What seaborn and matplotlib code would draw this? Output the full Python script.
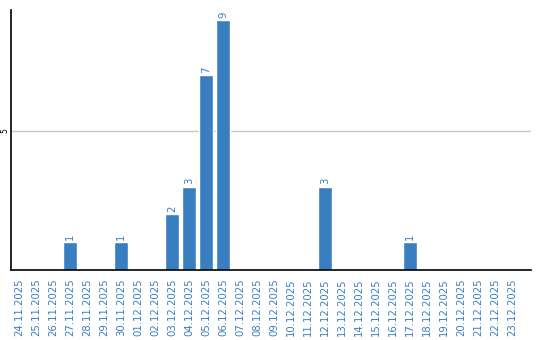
import matplotlib
matplotlib.use("Agg")
import matplotlib.pyplot as plt
import seaborn as sns
import pandas as pd

dates = ["24.11.2025", "25.11.2025", "26.11.2025", "27.11.2025", "28.11.2025",
         "29.11.2025", "30.11.2025", "01.12.2025", "02.12.2025", "03.12.2025",
         "04.12.2025", "05.12.2025", "06.12.2025", "07.12.2025", "08.12.2025",
         "09.12.2025", "10.12.2025", "11.12.2025", "12.12.2025", "13.12.2025",
         "14.12.2025", "15.12.2025", "16.12.2025", "17.12.2025", "18.12.2025",
         "19.12.2025", "20.12.2025", "21.12.2025", "22.12.2025", "23.12.2025"]
counts = [0, 0, 0, 1, 0, 0, 1, 0, 0, 2, 3, 7, 9, 0, 0,
          0, 0, 0, 3, 0, 0, 0, 0, 1, 0, 0, 0, 0, 0, 0]
y_ticks = [5]

BLUE = "#3a7ec2"

sns.set_style("white")
plt.rcParams['font.family'] = ['DejaVu Sans']

df = pd.DataFrame({"date": dates, "count": counts})

fig = plt.figure(figsize=(5.4, 3.4), dpi=100)
ax = fig.add_axes([10.7 / 540, 70 / 340, (531 - 10.7) / 540, 260 / 340])

sns.barplot(data=df, x="date", y="count", order=dates, color=BLUE,
            saturation=1, width=0.84, ax=ax)

ax.set_xlim(-0.5, 30.1)
ax.set_ylim(0, 9.35)
ax.set_yticks(y_ticks)
ax.set_yticklabels([str(v) for v in y_ticks], rotation=90, fontsize=5.5,
                   va="center", color="black")
ax.yaxis.grid(True, color="#c8c8c8", linewidth=1)
ax.set_axisbelow(True)
ax.tick_params(axis="y", length=0, pad=1)
ax.tick_params(axis="x", length=0, labelrotation=90, labelsize=7.3,
               labelcolor=BLUE, pad=6)
ax.set_xlabel("")
ax.set_ylabel("")

for s in ["top", "right"]:
    ax.spines[s].set_visible(False)
for s in ["left", "bottom"]:
    ax.spines[s].set_color("black")
    ax.spines[s].set_linewidth(1.2)

for i, v in enumerate(counts):
    if v > 0:
        ax.text(i, v + 0.08, str(v), rotation=90, ha="center", va="bottom",
                fontsize=7.3, color=BLUE)

fig.savefig("out.png", dpi=100)
